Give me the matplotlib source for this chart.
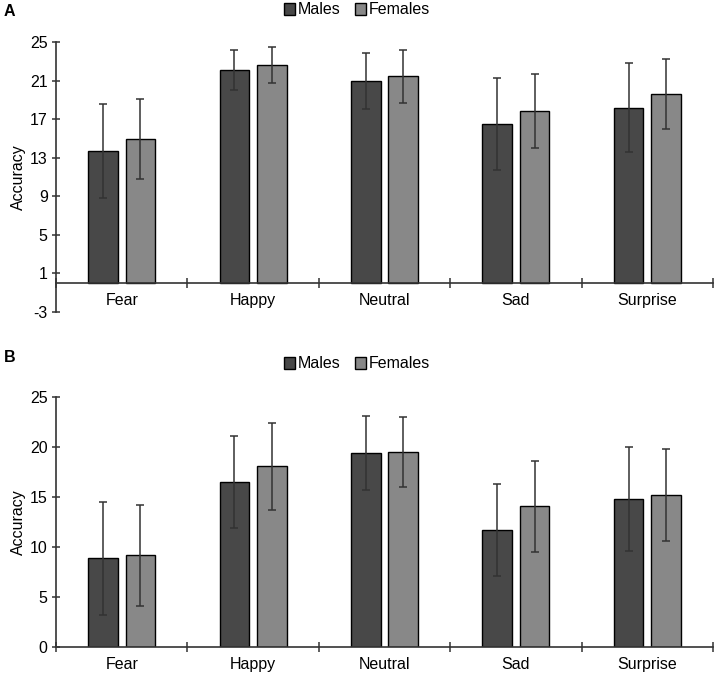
import matplotlib.pyplot as plt
import numpy as np

plt.rcParams['font.family'] = ['Liberation Sans', 'DejaVu Sans']
plt.rcParams['axes.unicode_minus'] = False

emotions = ["Fear", "Happy", "Neutral", "Sad", "Surprise"]
series = ["Males", "Females"]

# panel A
a_males = [13.7, 22.1, 21.0, 16.5, 18.2]
a_males_err = [4.9, 2.1, 2.9, 4.8, 4.6]
a_females = [14.9, 22.6, 21.45, 17.85, 19.6]
a_females_err = [4.15, 1.85, 2.75, 3.8, 3.6]

# panel B
b_males = [8.87, 16.5, 19.43, 11.73, 14.77]
b_males_err = [5.65, 4.6, 3.7, 4.6, 5.2]
b_females = [9.17, 18.07, 19.53, 14.07, 15.17]
b_females_err = [5.07, 4.37, 3.5, 4.57, 4.6]

dark = "#484848"
light = "#888888"

fig = plt.figure(figsize=(7.14, 6.77), dpi=100)
W, H = 714, 677


def make_panel(rect, m, me, f, fe, ylim, yticks, letter, letter_y, legend_y):
    ax = fig.add_axes(rect)
    x = np.arange(len(emotions))
    w = 0.225
    off = 0.142
    ek = dict(ecolor="#333333", elinewidth=1.1, capsize=2.8, capthick=1.1)
    ax.bar(x - off, m, w, yerr=me, color=dark, edgecolor="black", linewidth=1,
           error_kw=ek, label=series[0], zorder=2)
    ax.bar(x + off, f, w, yerr=fe, color=light, edgecolor="black", linewidth=1,
           error_kw=ek, label=series[1], zorder=2)
    ax.set_xlim(-0.5, len(emotions) - 0.5)
    ax.set_ylim(*ylim)
    ax.set_yticks(yticks)
    ax.spines['top'].set_visible(False)
    ax.spines['right'].set_visible(False)
    ax.spines['bottom'].set_position(('data', 0))
    for s in ('left', 'bottom'):
        ax.spines[s].set_linewidth(1.2)
        ax.spines[s].set_color("#333333")
    ax.set_xticks(np.arange(-0.5, len(emotions)), minor=False)
    ax.set_xticklabels([])
    ax.set_xticks(x, minor=True)
    ax.set_xticklabels(emotions, minor=True, fontsize=11.5)
    ax.tick_params(axis='x', which='major', direction='inout', length=7, width=1.1, color="#333333")
    ax.tick_params(axis='x', which='minor', length=0, pad=7)
    ax.tick_params(axis='y', direction='inout', length=6, width=1.1, color="#333333",
                   labelsize=11.5, pad=3)
    ax.set_ylabel("Accuracy", fontsize=11.5, labelpad=3)
    fig.text(4 / W, 1 - letter_y / H, letter, fontsize=11.5, fontweight='bold', va='center')
    ax.legend(loc='center', bbox_to_anchor=(357 / W, 1 - legend_y / H),
              bbox_transform=fig.transFigure, ncol=2, frameon=False, fontsize=11.5,
              handlelength=0.7, handleheight=0.7, handletextpad=0.15, columnspacing=0.9)
    return ax


make_panel([56 / W, 1 - 312 / H, 657 / W, 270 / H], a_males, a_males_err, a_females, a_females_err,
           (-3, 25), np.arange(-3, 26, 4), "A", 11, 10)
make_panel([56 / W, 1 - 647 / H, 657 / W, 250 / H], b_males, b_males_err, b_females, b_females_err,
           (0, 25), np.arange(0, 26, 5), "B", 357, 364)

fig.savefig("out.png", dpi=100)
